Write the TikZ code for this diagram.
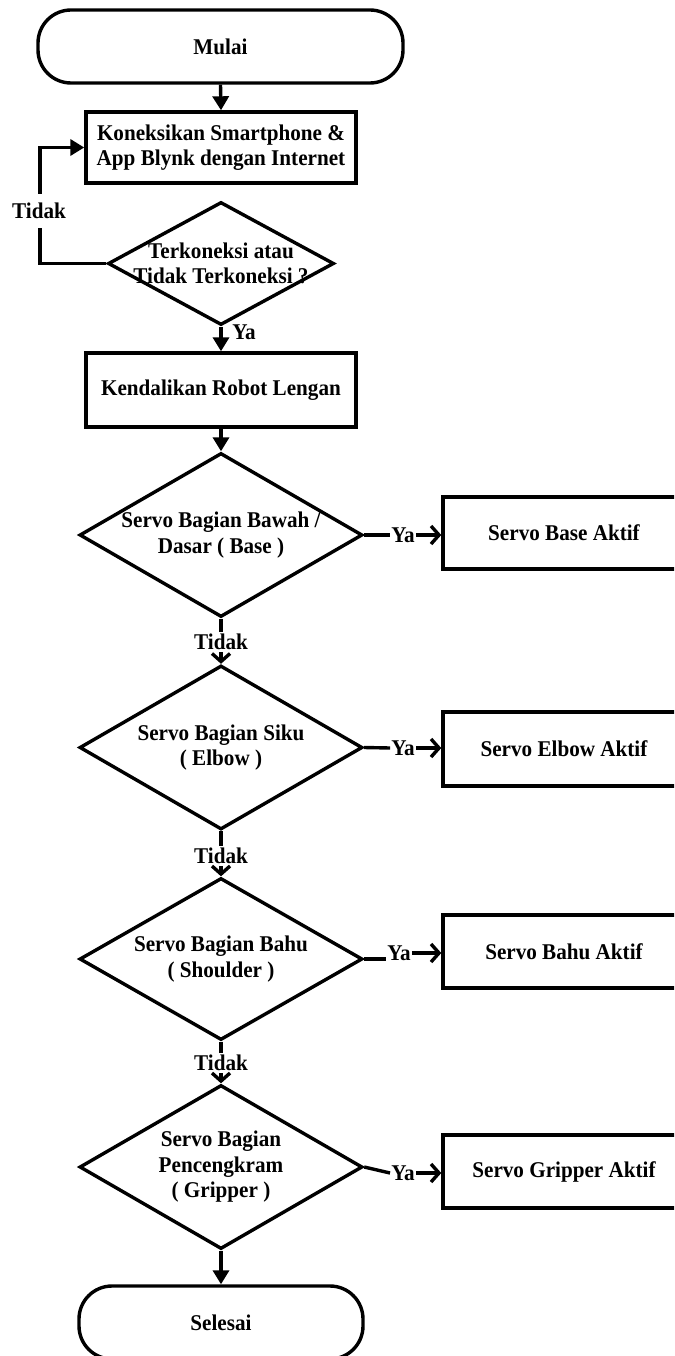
\documentclass[tikz,border=0pt]{standalone}
\usepackage{fontspec}
\setmainfont[FakeStretch=0.94]{Liberation Serif}
\usetikzlibrary{arrows.meta,shapes.geometric}
\begin{document}
\begin{tikzpicture}[x=1pt,y=-1pt,
  every node/.style={font=\fontsize{22.5}{25.5}\selectfont\bfseries},
  flowline/.style={line width=3.4pt},
  solidarrow/.style={flowline,-{Triangle[length=14pt,width=16pt]}},
  openarrow/.style={flowline,-{Straight Barb[length=8pt,width=18pt]}},
  terminal/.style={draw,line width=3.4pt,rounded corners=33pt,inner sep=0pt},
  process/.style={draw,line width=3.4pt,inner sep=0pt,align=center},
  decision/.style={draw,line width=3.4pt,diamond,inner sep=0pt},
  caption/.style={align=center,inner xsep=1pt,inner ysep=2pt},
]
\useasboundingbox (0,0) rectangle (674,1356);
\clip (0,0) rectangle (674,1356);

% main column
\node[terminal,minimum width=365pt,minimum height=73pt] (mulai) at (220.5,46.5) {Mulai};
\node[process,minimum width=270pt,minimum height=71pt] (b1) at (221,147.5)
  {Koneksikan Smartphone \&\\App Blynk dengan Internet};
\node[decision,minimum width=226pt,minimum height=123pt] (d1) at (221,263.5) {};
\node[caption] (d1t) at (d1.center) {Terkoneksi atau\\Tidak Terkoneksi ?};
\node[process,minimum width=270pt,minimum height=74pt] (b2) at (221,390) {Kendalikan Robot Lengan};

\node[decision,minimum width=283pt,minimum height=164pt] (d2) at (221,535) {};
\node[caption] (d2t) at (d2.center) {Servo Bagian Bawah /\\Dasar ( Base )};
\node[decision,minimum width=283pt,minimum height=164pt] (d3) at (221,747.5) {};
\node[caption] (d3t) at (d3.center) {Servo Bagian Siku\\( Elbow )};
\node[decision,minimum width=283pt,minimum height=162pt] (d4) at (221,959) {};
\node[caption] (d4t) at (d4.center) {Servo Bagian Bahu\\( Shoulder )};
\node[decision,minimum width=283pt,minimum height=164pt] (d5) at (221,1167) {};
\node[caption] (d5t) at (d5.center) {Servo Bagian\\Pencengkram\\( Gripper )};
\node[terminal,minimum width=284pt,minimum height=73pt] (sel) at (221,1322.5) {Selesai};

% servo outputs
\node[process,minimum width=242pt,minimum height=72pt] (r2) at (564,533) {Servo Base Aktif};
\node[process,minimum width=242pt,minimum height=74pt] (r3) at (564,749) {Servo Elbow Aktif};
\node[process,minimum width=242pt,minimum height=73pt] (r4) at (564,951.5) {Servo Bahu Aktif};
\node[process,minimum width=242pt,minimum height=73pt] (r5) at (564,1171.5) {Servo Gripper Aktif};

% branch labels
\node[caption] (y1) at (244,332) {Ya};
\node[caption] (t2) at (221,642) {Tidak};
\node[caption] (t3) at (221,856) {Tidak};
\node[caption] (t4) at (221,1063) {Tidak};
\node[caption] (y2) at (403,535) {Ya};
\node[caption] (y3) at (403,748) {Ya};
\node[caption] (y4) at (399,953) {Ya};
\node[caption] (y5) at (403,1173) {Ya};

% connectors
\draw[solidarrow] (mulai.south) -- (b1.north);
\coordinate (lp) at (40,263.5);
\draw[solidarrow] (d1.west) -- (lp) |- (b1.west);
\node[caption,fill=white,inner ysep=9pt] (t1) at (39,211) {Tidak};
\draw[solidarrow] (d1.south) -- (b2.north);
\draw[solidarrow] (b2.south) -- (d2.north);

\draw[flowline] (d2.south) -- (t2.north);
\draw[openarrow] (t2.south) -- (d3.north);
\draw[flowline] (d3.south) -- (t3.north);
\draw[openarrow] (t3.south) -- (d4.north);
\draw[flowline] (d4.south) -- (t4.north);
\draw[openarrow] (t4.south) -- (d5.north);
\draw[solidarrow] (d5.south) -- (sel.north);

\draw[flowline] (d2.east) -- (y2.west);
\draw[openarrow] (y2.east) -- (y2.east -| r2.west);
\draw[flowline] (d3.east) -- (y3.west);
\draw[openarrow] (y3.east) -- (y3.east -| r3.west);
\draw[flowline] (d4.east) -- (d4.east -| y4.west);
\draw[openarrow] (y4.east) -- (y4.east -| r4.west);
\draw[flowline] (d5.east) -- (y5.west);
\draw[openarrow] (y5.east) -- (y5.east -| r5.west);
\end{tikzpicture}
\end{document}
